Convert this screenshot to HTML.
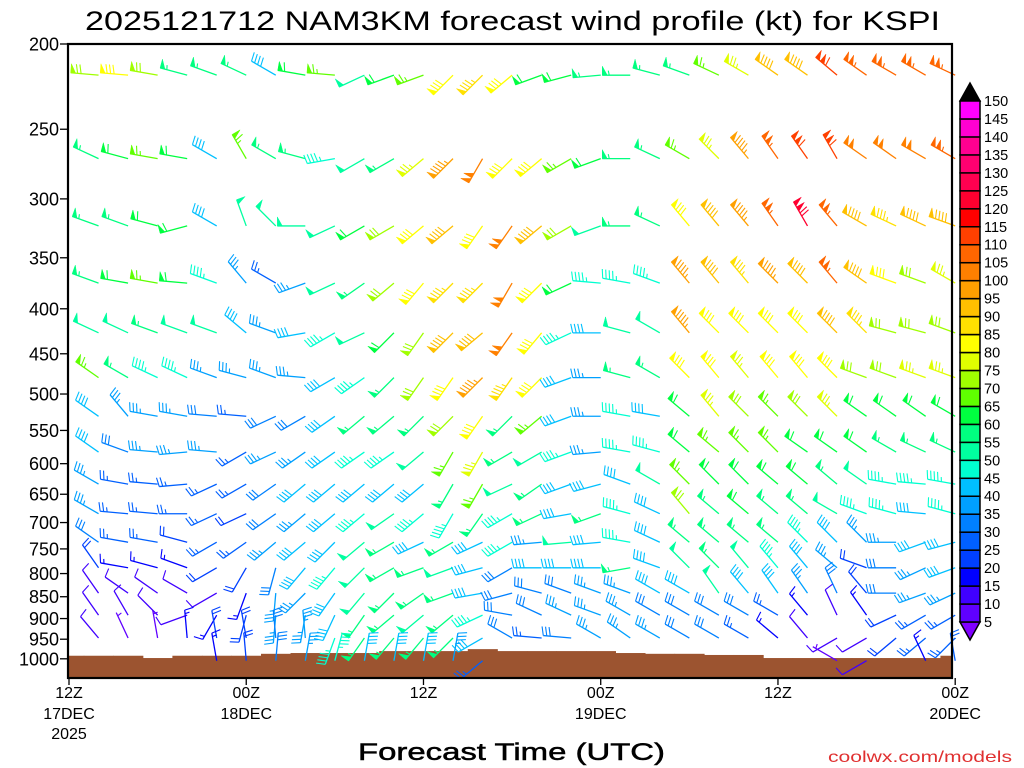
<!DOCTYPE html>
<html><head><meta charset="utf-8"><title>NAM3KM wind profile KSPI</title>
<style>
html,body{margin:0;padding:0;background:#fff;}
svg{display:block;font-family:"Liberation Sans",sans-serif;}
</style></head>
<body>
<svg id="chart" width="1024" height="768" viewBox="0 0 1024 768" xmlns="http://www.w3.org/2000/svg">
<text x="85" y="30" font-size="27" textLength="855" lengthAdjust="spacingAndGlyphs" fill="#000">2025121712 NAM3KM forecast wind profile (kt) for KSPI</text>
<g id="ground"></g>
<g id="barbs"></g>
<g id="axes"></g>
<g id="cbar"></g>
<text x="358" y="760" font-size="24" stroke="#000" stroke-width="0.5" textLength="307" lengthAdjust="spacingAndGlyphs" fill="#000">Forecast Time (UTC)</text>
<text x="828" y="762" font-size="16" textLength="184" lengthAdjust="spacingAndGlyphs" fill="#e03030">coolwx.com/models</text>
</svg>
<script>
// ---- data ----
const levels = [217,270,322,374,426,479,530,582,633,684,737,788,842,892,947,1005];
const hours = [2,4,6,8,10,12,14,16,18,20,22,24,26,28,30,32,34,36,38,40,42,44,46,48,50,52,54,56,58,60];
const speed1 = [70,80,70,55,55,55,40,60,65,50,60,65,80,85,80,60,60,55,55,55,55,65,75,90,90,110,105,105,105,105];
const dir1 = [275,275,280,285,290,295,300,280,275,245,250,250,225,225,230,250,255,265,270,285,290,295,300,305,305,310,305,300,300,295];
const speed2 = [55,60,65,60,40,65,55,55,45,50,55,75,95,100,80,80,65,60,55,55,65,75,95,105,110,110,100,100,100,105];
const dir2 = [295,285,280,280,300,330,300,285,260,240,240,230,225,210,225,230,240,250,270,295,300,315,320,325,325,330,305,305,300,300];
const speed3 = [55,55,60,60,40,50,50,50,50,60,70,80,90,80,100,90,70,50,55,55,80,90,95,105,120,105,90,85,90,90];
const dir3 = [290,290,285,255,300,340,315,270,245,240,240,230,230,215,215,230,240,250,270,295,320,320,320,325,330,320,300,295,295,290];
const speed4 = [55,60,65,60,45,35,25,35,50,55,70,80,85,85,100,80,60,45,45,45,95,90,85,95,90,105,90,80,70,75];
const dir4 = [290,280,280,275,290,320,300,250,245,235,230,220,225,225,210,225,245,275,280,290,320,320,320,315,315,320,305,290,290,300];
const speed5 = [50,50,55,50,50,40,35,40,45,50,60,70,90,90,100,80,45,40,50,50,95,80,80,80,80,90,85,70,70,70];
const dir5 = [295,295,290,290,290,310,290,260,240,245,225,215,225,230,215,220,245,270,285,300,320,315,315,315,315,315,315,285,285,290];
const speed6 = [65,55,45,45,35,35,35,35,40,45,55,70,80,95,85,80,40,35,55,55,80,80,75,80,80,80,70,70,75,75];
const dir6 = [305,300,295,295,290,285,290,275,240,235,225,215,215,225,215,225,250,270,285,300,315,320,320,320,320,315,290,290,290,290];
const speed7 = [40,35,35,35,30,25,30,30,40,55,55,55,70,80,55,65,40,35,45,40,60,75,70,65,70,75,60,60,60,60];
const dir7 = [305,320,280,280,275,275,245,240,235,230,230,225,225,215,225,230,250,270,280,280,310,320,315,315,315,315,305,305,305,300];
const speed8 = [40,30,35,35,35,25,35,35,40,45,45,50,65,75,55,50,45,35,45,45,60,65,65,65,60,60,60,55,55,55];
const dir8 = [305,290,275,265,275,240,245,235,235,235,235,230,210,210,240,240,250,265,280,285,310,310,315,315,305,305,305,300,295,295];
const speed9 = [35,25,25,25,25,25,30,40,40,40,40,40,55,65,50,55,40,40,40,50,65,60,60,60,60,55,50,45,45,45];
const dir9 = [300,280,275,265,245,240,235,230,230,230,230,230,210,210,245,235,250,255,290,300,315,315,315,310,310,310,305,280,275,280];
const speed10 = [35,25,25,25,25,20,30,35,40,45,50,45,45,55,45,55,40,55,45,40,70,55,60,55,55,50,45,45,40,45];
const dir10 = [300,275,275,270,245,245,235,230,230,230,235,230,210,215,240,245,260,250,285,295,320,310,310,310,310,300,290,285,275,285];
const speed11 = [30,25,25,20,25,25,35,40,40,50,55,40,55,40,45,35,50,40,45,40,55,55,55,55,45,40,35,35,40,40];
const dir11 = [305,280,280,285,240,235,230,230,225,230,240,245,240,245,240,265,265,265,280,295,310,310,310,310,315,315,315,270,250,255];
const speed12 = [20,15,15,15,20,20,30,40,45,50,55,55,50,40,30,40,40,40,55,40,50,55,50,45,40,35,20,30,35,40];
const dir12 = [325,280,285,290,240,210,195,220,220,225,240,250,250,255,240,270,270,270,260,290,315,315,320,320,320,310,290,270,245,250];
const speed13 = [10,10,10,10,10,15,35,35,40,50,55,55,55,40,30,30,30,35,35,40,40,50,40,40,35,30,20,30,35,35];
const dir13 = [325,305,305,300,240,200,185,225,215,220,225,235,250,260,255,285,290,290,290,300,300,325,320,325,325,335,320,270,250,245];
const speed14 = [10,10,10,10,15,20,35,35,40,55,55,50,55,45,30,30,35,35,35,30,30,30,30,25,15,10,15,20,25,25];
const dir14 = [325,330,315,250,210,195,185,190,205,215,230,230,230,245,280,295,295,290,300,300,300,300,300,300,320,335,325,245,240,240];
const speed15 = [10,5,5,15,20,20,30,35,45,55,55,55,55,40,30,25,30,35,35,35,30,30,25,15,10,10,10,20,25,25];
const dir15 = [320,335,350,355,350,350,355,355,200,215,220,220,225,240,300,275,275,300,305,300,300,300,300,310,320,240,240,230,230,225];
const speed16 = [0,0,0,0,15,20,30,35,45,40,40,40,35,25,0,0,0,0,0,0,0,0,0,0,0,5,10,0,15,25];
const dir16 = [0,0,0,0,350,355,5,10,15,10,10,10,10,230,0,0,0,0,0,0,0,0,0,0,0,300,240,0,335,350];
const surfHours = [0,2,4,6,8,10,12,14,16,18,20,22,24,26,28,30,32,34,36,38,40,42,44,46,48,50,52,54,56,58,60];
const surfPres = [992,992,992,998,992,992,992,987,985,985,985,980,980,980,975,980,980,980,980,985,987,987,990,990,998,998,998,998,998,998,992];
const yTicks = [200,250,300,350,400,450,500,550,600,650,700,750,800,850,900,950,1000];
const xTickHours = [0,12,24,36,48,60];
const xTickTime = ["12Z","00Z","12Z","00Z","12Z","00Z"];
const xTickDate = ["17DEC","18DEC","","19DEC","","20DEC"];
const xTickYear = ["2025","","","","",""];
const cbarLevels = [5,10,15,20,25,30,35,40,45,50,55,60,65,70,75,80,85,90,95,100,105,110,115,120,125,130,135,140,145,150];
const cbarColors = ["#6000ff","#4000ff","#0000ff","#0040ff","#0060ff","#0080ff","#00a0ff","#00c0ff","#00ffd0","#00ffa0","#00ff80","#00ff40","#60ff00","#a0ff00","#e0ff00","#ffff00","#ffe000","#ffc000","#ffa000","#ff8000","#ff6600","#ff4000","#ff0000","#ff0030","#ff0050","#ff0070","#ff0090","#ff00d0","#ff00ff"];
const speeds = [speed1,speed2,speed3,speed4,speed5,speed6,speed7,speed8,speed9,speed10,speed11,speed12,speed13,speed14,speed15,speed16];
const dirs = [dir1,dir2,dir3,dir4,dir5,dir6,dir7,dir8,dir9,dir10,dir11,dir12,dir13,dir14,dir15,dir16];

// ---- axes ----
const X0 = 69, PXH = 14.77, Y0 = 44, KY = 382, PLOT_R = 952, PLOT_B = 678;
function xScale(h){ return X0 + PXH*h; }
function yScale(p){ return Y0 + KY*Math.log(p/200); }
function colorFor(s){
  if (s < 5) return "#8000ff";
  if (s >= 150) return "#000000";
  return cbarColors[Math.floor(s/5)-1];
}
const NS = "http://www.w3.org/2000/svg";
function mk(tag, attrs, parent){
  const e = document.createElementNS(NS, tag);
  for (const k in attrs) e.setAttribute(k, attrs[k]);
  parent.appendChild(e);
  return e;
}

// ground
const gG = document.getElementById('ground');
surfHours.forEach((h,i)=>{
  const xa = Math.max(X0, xScale(h-1)), xb = Math.min(PLOT_R, xScale(h+1));
  const yt = yScale(surfPres[i]);
  const r = mk('rect',{x:xa,y:yt,width:xb-xa+0.5,height:PLOT_B-yt,fill:'#9c5430'},gG);
  
  
});

// barbs
const gB = document.getElementById('barbs');
function drawBarb(sx, sy, spd, dir, col){
  const g = mk('g',{stroke:col,fill:col,'stroke-linecap':'butt'},gB);
  
  
  const d = dir*Math.PI/180;
  const ux = Math.sin(d), uy = -Math.cos(d);
  const px = -uy, py = ux;
  const L = 28;
  const P = t => [sx+ux*t, sy+uy*t];
  const tip = P(L);
  mk('line',{x1:sx,y1:sy,x2:tip[0],y2:tip[1],'stroke-width':1.3},g);
  let s = Math.round(spd/5)*5;
  let n50 = Math.floor(s/50); s -= n50*50;
  let n10 = Math.floor(s/10); s -= n10*10;
  let n5 = s>=5 ? 1 : 0;
  let pos = L;
  for (let i=0;i<n50;i++){
    const a = P(pos), b = P(pos-5);
    const apex = [a[0]+px*9, a[1]+py*9];
    mk('polygon',{points:`${a[0]},${a[1]} ${apex[0]},${apex[1]} ${b[0]},${b[1]}`,'stroke-width':0.5},g);
    pos -= 6;
  }
  if (n50>0 && (n10||n5)) pos -= 1;
  if (n50===0 && n10===0 && n5) pos -= 3.5;
  for (let i=0;i<n10;i++){
    const a = P(pos);
    mk('line',{x1:a[0],y1:a[1],x2:a[0]+px*9+ux*2,y2:a[1]+py*9+uy*2,'stroke-width':1.1},g);
    pos -= 3.5;
  }
  if (n5){
    const a = P(pos);
    mk('line',{x1:a[0],y1:a[1],x2:a[0]+px*4.5+ux*1,y2:a[1]+py*4.5+uy*1,'stroke-width':1.1},g);
  }
}
levels.forEach((p,ri)=>{
  hours.forEach((h,ci)=>{
    const s = speeds[ri][ci];
    if (!s) return;
    drawBarb(xScale(h), yScale(p), s, dirs[ri][ci], colorFor(s));
  });
});

// axes frame & ticks
const gA = document.getElementById('axes');
const frame = mk('rect',{x:X0-1,y:Y0,width:PLOT_R-X0+1,height:PLOT_B-Y0,fill:'none',stroke:'#000','stroke-width':2.2},gA);


yTicks.forEach(p=>{
  const y = yScale(p);
  const t = mk('line',{x1:60,y1:y,x2:68,y2:y,stroke:'#000','stroke-width':1.3},gA);
  
  
  const tx = mk('text',{x:59,y:y+6.5,'font-size':18,'text-anchor':'end',fill:'#000'},gA);
  
  
  tx.textContent = p;
});
xTickHours.forEach((h,i)=>{
  const x = xScale(h);
  const t = mk('line',{x1:x,y1:PLOT_B,x2:x,y2:PLOT_B+7,stroke:'#000','stroke-width':1.3},gA);
  
  
  [[xTickTime[i],698],[xTickDate[i],719],[xTickYear[i],739]].forEach(([s,y])=>{
    if (!s) return;
    const tx = mk('text',{x:x,y:y,'font-size':16,'text-anchor':'middle',fill:'#000'},gA);
    
    
    tx.textContent = s;
  });
});

// colorbar
const gC = document.getElementById('cbar');
const CB_X = 960, CB_W = 20, CB_TOP = 101, CB_BOT = 622;
const bh = (CB_BOT-CB_TOP)/(cbarLevels.length-1);
function cbY(v){ return CB_BOT - (v-cbarLevels[0])/5*bh; }
const topTri = mk('polygon',{points:`${CB_X},${CB_TOP} ${CB_X+CB_W/2},${CB_TOP-18} ${CB_X+CB_W},${CB_TOP}`,fill:'#000',stroke:'#000','stroke-width':1.5},gC);


const botTri = mk('polygon',{points:`${CB_X},${CB_BOT} ${CB_X+CB_W/2},${CB_BOT+18} ${CB_X+CB_W},${CB_BOT}`,fill:'#8000ff',stroke:'#000','stroke-width':1.5},gC);


cbarColors.forEach((c,i)=>{
  const y1 = cbY(cbarLevels[i+1]);
  const r = mk('rect',{x:CB_X,y:y1,width:CB_W,height:bh,fill:c,stroke:'#000','stroke-width':1.5},gC);
  
  
});
cbarLevels.forEach(v=>{
  const tx = mk('text',{x:984,y:cbY(v)+5,'font-size':14.5,fill:'#000'},gC);
  
  
  tx.textContent = v;
});
</script>
</body></html>
